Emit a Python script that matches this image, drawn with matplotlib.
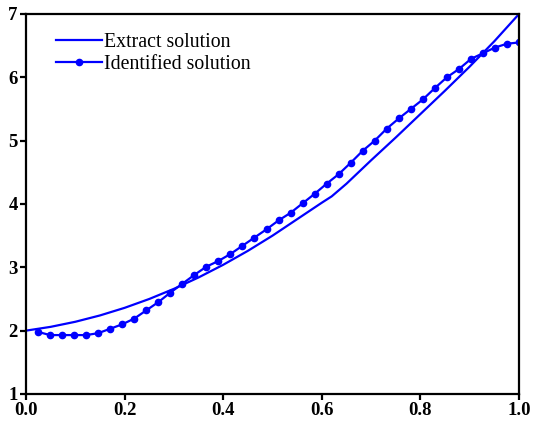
import matplotlib
matplotlib.use("Agg")
import matplotlib.pyplot as plt
import numpy as np

plt.rcParams["font.family"] = ["Liberation Serif", "DejaVu Serif"]

# exact solution
exact_x = [0.00, 0.05, 0.10, 0.15, 0.20, 0.25, 0.30, 0.35, 0.40, 0.45, 0.50,
           0.55, 0.60, 0.62, 0.65, 0.70, 0.75, 0.80, 0.85, 0.90, 0.95, 1.00]
exact_y = [2.00, 2.06, 2.14, 2.24, 2.36, 2.50, 2.66, 2.84, 3.04, 3.26, 3.50,
           3.76, 4.02, 4.12, 4.32, 4.69, 5.05, 5.42, 5.79, 6.17, 6.57, 7.00]

# identified solution, 41 samples at k/41
ident_x = [k / 41 for k in range(1, 42)]
ident_y = [1.98, 1.93, 1.93, 1.93, 1.93, 1.96, 2.03, 2.10, 2.19, 2.32,
           2.45, 2.60, 2.74, 2.88, 3.01, 3.10, 3.21, 3.34, 3.47, 3.60,
           3.74, 3.86, 4.01, 4.16, 4.32, 4.47, 4.65, 4.84, 5.00, 5.19,
           5.35, 5.50, 5.65, 5.83, 6.00, 6.13, 6.29, 6.38, 6.47, 6.53, 6.55]

fig = plt.figure(figsize=(5.34, 4.23), dpi=100)
ax = fig.add_axes([0.0487, 0.0686, 0.9233, 0.8984])

ax.plot(exact_x, exact_y, color="#0000ff", lw=1.6, label="Extract solution")
ax.plot(ident_x, ident_y, color="#0000ff", lw=1.6, marker="o", markersize=4.5,
        label="Identified solution")

ax.set_xlim(0, 1)
ax.set_ylim(1, 7)
ax.set_xticks([0.0, 0.2, 0.4, 0.6, 0.8, 1.0])
ax.set_yticks([1, 2, 3, 4, 5, 6, 7])
ax.set_xticklabels(["0.0", "0.2", "0.4", "0.6", "0.8", "1.0"])
for s in ax.spines.values():
    s.set_linewidth(1.6)
ax.tick_params(direction="out", length=4, width=1.6, labelsize=13.5, pad=2)
for lab in ax.get_xticklabels() + ax.get_yticklabels():
    lab.set_fontweight("bold")

ax.legend(loc="upper left", bbox_to_anchor=(0.045, 0.97), frameon=False,
          fontsize=14.3, handlelength=2.3, handletextpad=0.1, labelspacing=0.15,
          borderaxespad=0)

fig.savefig("out.png", dpi=100)
